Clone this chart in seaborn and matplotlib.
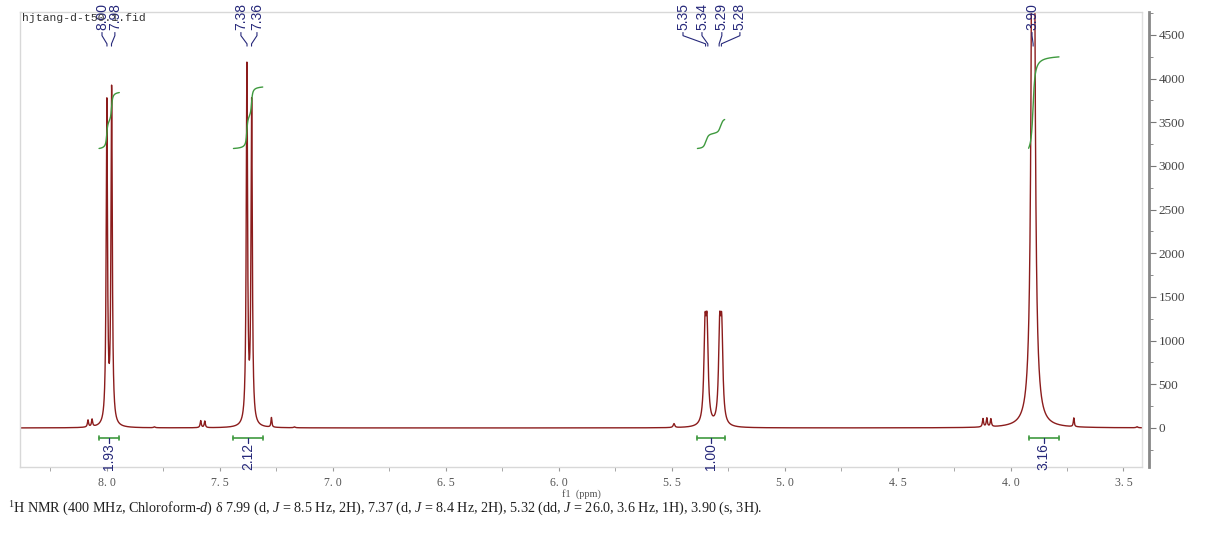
import numpy as np
import pandas as pd
import matplotlib
matplotlib.use("Agg")
import matplotlib.pyplot as plt
import matplotlib.transforms as mtransforms
from matplotlib.ticker import MultipleLocator
import seaborn as sns

# peak table (ppm, height, half width)
peak_ppm = [8.0006, 7.9794, 7.3805, 7.3595, 5.3525, 5.3435, 5.2875, 5.2785, 3.900,
            8.084, 8.066, 7.585, 7.567, 7.272, 5.490, 4.122, 4.105, 4.087, 3.720,
            7.79, 7.17, 3.44]
peak_height = [3680, 3830, 4090, 3670, 990, 990, 990, 990, 12000,
               80, 85, 80, 75, 110, 45, 95, 100, 90, 100,
               10, 10, 12]
peak_hw = [0.0035, 0.0035, 0.0035, 0.0035, 0.006, 0.006, 0.006, 0.006, 0.0065,
           0.003, 0.003, 0.003, 0.003, 0.0025, 0.004, 0.003, 0.003, 0.003, 0.0025,
           0.004, 0.004, 0.004]

# picked peaks (labels on top)
pick_ppm = [8.00, 7.98, 7.38, 7.36, 5.35, 5.34, 5.29, 5.28, 3.90]
pick_text = ["8.00", "7.98", "7.38", "7.36", "5.35", "5.34", "5.29", "5.28", "3.90"]
pick_label_x = [8.022, 7.965, 7.407, 7.336, 5.450, 5.366, 5.278, 5.198, 3.905]

# integrals
int_start = [8.035, 7.44, 5.386, 3.92]
int_end = [7.945, 7.31, 5.265, 3.785]
int_value = [1.93, 2.12, 1.00, 3.16]
int_text = ["1.93", "2.12", "1.00", "3.16"]

xtick_vals = [8.0, 7.5, 7.0, 6.5, 6.0, 5.5, 5.0, 4.5, 4.0, 3.5]
xtick_labels = ["8. 0", "7. 5", "7. 0", "6. 5", "6. 0", "5. 5", "5. 0", "4. 5", "4. 0", "3. 5"]

caption = (r"$^{1}$H NMR (400 MHz, Chloroform-$d$) δ 7.99 (d, $J$ = 8.5 Hz, 2H), "
           r"7.37 (d, $J$ = 8.4 Hz, 2H), 5.32 (dd, $J$ = 26.0, 3.6 Hz, 1H), 3.90 (s, 3H).")

sns.set_style("white")
plt.rcParams["font.family"] = ["Liberation Serif", "DejaVu Sans"]
plt.rcParams["mathtext.fontset"] = "custom"
plt.rcParams["mathtext.rm"] = "Liberation Serif"
plt.rcParams["mathtext.it"] = "Liberation Serif:italic"

line_col = "#8b1c1c"
green = "#3f9a3f"
navy = "#26287a"

ppm = np.arange(8.385, 3.418, -0.0005)
spec = np.zeros_like(ppm)
for p, h, w in zip(peak_ppm, peak_height, peak_hw):
    spec += h / (1 + ((ppm - p) / w) ** 2)
df = pd.DataFrame({"ppm": ppm, "intensity": spec})

fig = plt.figure(figsize=(12.13, 5.39), dpi=100)
ax = fig.add_axes([20 / 1213, 1 - 467 / 539, 1122 / 1213, 455 / 539])

sns.lineplot(data=df, x="ppm", y="intensity", ax=ax, color=line_col, lw=1, sort=False)

# integral curves
for a, b, v in zip(int_start, int_end, int_value):
    m = (ppm <= a) & (ppm >= b)
    cum = np.cumsum(spec[m])
    cum = cum / cum[-1]
    sns.lineplot(x=ppm[m], y=3200 + cum * v * 332, ax=ax, color=green, lw=1, sort=False)

ax.set_xlim(8.385, 3.418)
ax.set_ylim(-447, 4763)

# integral brackets and values
for a, b, t in zip(int_start, int_end, int_text):
    ax.plot([a, b], [-115, -115], color=green, lw=1.2)
    ax.plot([a, a], [-140, -90], color=green, lw=1.2)
    ax.plot([b, b], [-140, -90], color=green, lw=1.2)
    c = (a + b) / 2
    ax.plot([c, c], [-115, -170], color=navy, lw=0.9)
    ax.text(c, -170, t, rotation=90, ha="center", va="top", color=navy,
            fontsize=10, family="Liberation Sans", clip_on=False)

# peak labels with connectors
trans = mtransforms.blended_transform_factory(ax.transData, ax.transAxes)
for p, t, lx in zip(pick_ppm, pick_text, pick_label_x):
    ax.text(lx, 1.02, t, rotation=90, ha="center", va="top", color=navy,
            fontsize=10, family="Liberation Sans", transform=trans, clip_on=False)
    ax.plot([lx, lx, p, p], [0.955, 0.948, 0.930, 0.925], color=navy, lw=0.8,
            transform=trans, clip_on=False)

ax.text(0.002, 0.997, "hjtang-d-t50.1.fid", transform=ax.transAxes, ha="left", va="top",
        fontsize=8.2, family="Liberation Mono", color="#333333")

# axes styling
ax.yaxis.tick_right()
ax.yaxis.set_label_position("right")
ax.set_yticks(np.arange(0, 4501, 500))
ax.yaxis.set_minor_locator(MultipleLocator(250))
ax.set_xticks(xtick_vals)
ax.set_xticklabels(xtick_labels)
ax.xaxis.set_minor_locator(MultipleLocator(0.25))
ax.tick_params(axis="y", which="major", length=5, color="#777777", labelsize=9.5,
               labelcolor="#444444", pad=2, direction="out")
ax.tick_params(axis="y", which="minor", length=3, color="#777777", direction="out")
ax.tick_params(axis="x", which="both", length=3, color="#999999", labelsize=8.5,
               labelcolor="#555555", pad=4, direction="out", bottom=True)
ax.set_xlabel("f1  (ppm)", fontsize=7.5, color="#555555", labelpad=0.5)
ax.set_ylabel("")

for s in ["top", "left", "bottom"]:
    ax.spines[s].set_color("#d8d8d8")
    ax.spines[s].set_linewidth(1)
ax.spines["right"].set_color("#888888")
ax.spines["right"].set_linewidth(2)
ax.spines["right"].set_position(("outward", 5))
ax.plot([1, 1], [0, 1], color="#e0e0e0", lw=1, transform=ax.transAxes, clip_on=False)

fig.text(8 / 1213, 1 - 509 / 539, caption, fontsize=10.2, va="center", ha="left", color="#222222")

fig.savefig("out.png", dpi=100)
